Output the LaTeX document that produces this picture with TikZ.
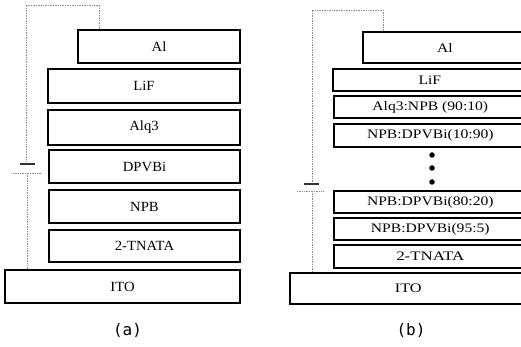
\documentclass[tikz,border=0pt]{standalone}
\usepackage{fontspec}
\setmainfont{Liberation Serif}
\newfontfamily\labfont{DejaVu Sans Mono}
\newcommand{\padb}[3][1.2]{\makebox[#2pt]{\scalebox{#1}[1]{#3}}\hspace{34pt}}
\begin{document}
\begin{tikzpicture}[x=1pt,y=-1pt,
  layer/.style={draw=black, line width=1.6pt, rectangle, inner sep=0pt,
    font=\fontsize{14}{14}\selectfont},
  layerb/.style={layer, anchor=west, font=\fontsize{13}{13}\selectfont},
  wire/.style={draw=black!45, line width=0.7pt, densely dotted},
  plate/.style={draw=black!80, line width=1.5pt},
  dotnode/.style={circle, fill=black, inner sep=0pt, minimum size=5.5pt},
  caption/.style={font=\labfont\fontsize{16}{16}\selectfont, inner sep=0pt}]
\useasboundingbox (0,0) rectangle (521,347);
\clip (0,0) rectangle (521,347);
\fill[white] (0,0) rectangle (521,347);

% ---------- (a) ----------
\node[layer, minimum width=162pt, minimum height=33pt] (ala) at (159,46.5) {\scalebox{1.05}[1]{Al}};
\node[layer, minimum width=192pt, minimum height=34pt] (lifa) at (144,86) {\scalebox{1.05}[1]{LiF}};
\node[layer, minimum width=192pt, minimum height=35pt] (alqa) at (144,127.5) {\scalebox{1.05}[1]{Alq3}};
\node[layer, minimum width=191pt, minimum height=33pt] (dpva) at (144.5,166.5) {\scalebox{1.05}[1]{DPVBi}};
\node[layer, minimum width=191pt, minimum height=33pt] (npba) at (144.5,206.5) {\scalebox{1.05}[1]{NPB}};
\node[layer, minimum width=191pt, minimum height=32pt] (tnaa) at (144.5,246) {\scalebox{1.05}[1]{2-TNATA}};
\node[layer, minimum width=235pt, minimum height=33pt] (itoa) at (122.5,286.5) {\scalebox{1.05}[1]{ITO}};

\coordinate (topa) at (26,5);
\coordinate (pa1) at (26,164);
\coordinate (pa2) at (27,173);
\draw[wire] ([xshift=22pt]ala.north west) |- (topa) -- (pa1);
\draw[plate] (20,164) -- (35,164);
\draw[wire, line width=0.9pt] (13,173) -- (41,173);
\draw[wire] (pa2) -- (itoa.north -| pa2);

\node[caption] (capa) at (127.5,330) {(a)};

% ---------- (b) ----------
\node[layerb, minimum height=31pt] (alb) at (362,47.5) {\padb{164}{Al}};
\node[layerb, minimum height=22pt] (lifb) at (332,80) {\padb{194}{LiF}};
\node[layerb, minimum height=22pt] (mixb1) at (333,107) {\padb{193}{Alq3:NPB (90:10)}};
\node[layerb, minimum height=23pt] (mixb2) at (333,135.5) {\padb{193}{NPB:DPVBi(10:90)}};
\node[dotnode] (d1) at (432,155) {};
\node[dotnode] (d2) at (432,168) {};
\node[dotnode] (d3) at (432,182) {};
\node[layerb, minimum height=22pt] (mixb3) at (333,202) {\padb{193}{NPB:DPVBi(80:20)}};
\node[layerb, minimum height=22pt] (mixb4) at (333,229) {\padb{193}{NPB:DPVBi(95:5)}};
\node[layerb, minimum height=23pt] (tnab) at (333,256.5) {\padb[1.3]{193}{2-TNATA}};
\node[layerb, minimum height=31pt] (itob) at (289,288.5) {\padb[1.25]{237}{ITO}};

\coordinate (topb) at (312,10);
\coordinate (pb1) at (312,184);
\coordinate (pb2) at (312,191);
\draw[wire] ([xshift=21pt]alb.north west) |- (topb) -- (pb1);
\draw[plate] (304,184) -- (319,184);
\draw[wire, line width=0.9pt] (297,191) -- (324,191);
\draw[wire] (pb2) -- (itob.north -| pb2);

\node[caption] (capb) at (411,330) {(b)};
\end{tikzpicture}
\end{document}
